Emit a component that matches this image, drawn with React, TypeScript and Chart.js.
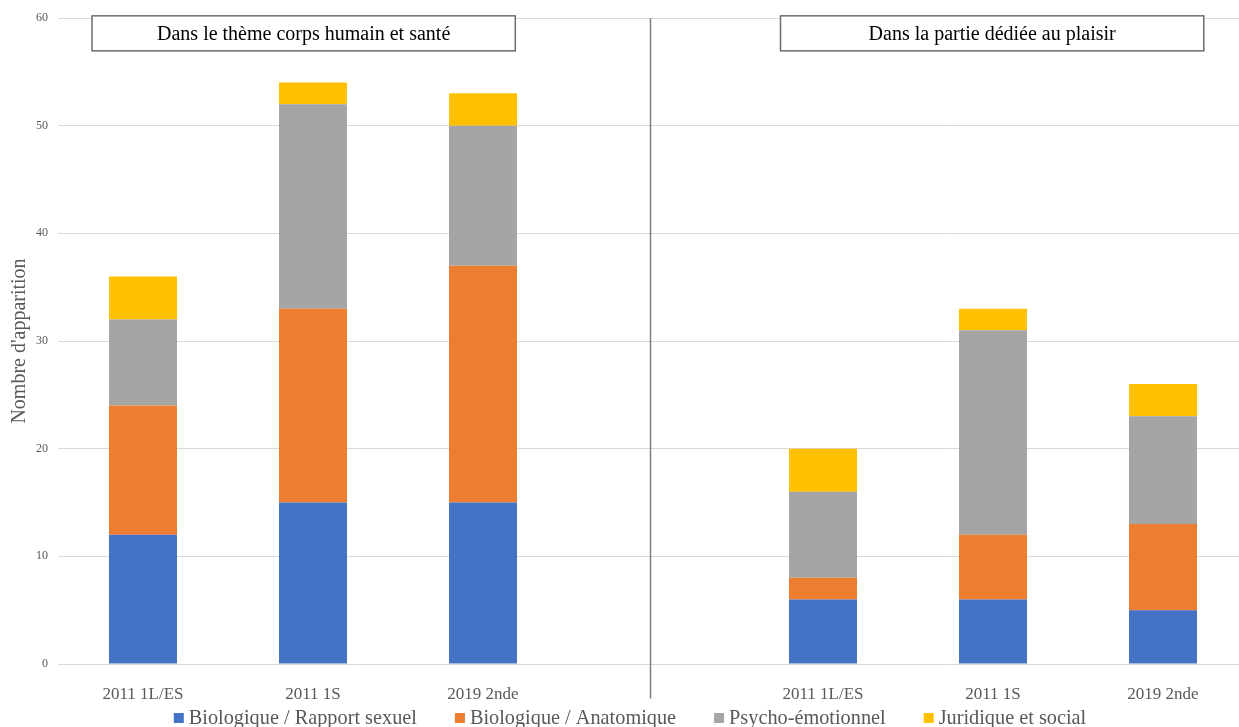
import React, { useEffect, useRef } from "react";
import { Chart, registerables } from "chart.js";

Chart.register(...registerables);

const categories = ["2011 1L/ES", "2011 1S", "2019 2nde", "", "2011 1L/ES", "2011 1S", "2019 2nde"];
const seriesNames = ["Biologique / Rapport sexuel", "Biologique / Anatomique", "Psycho-émotionnel", "Juridique et social"];
const bioRapport = [12, 15, 15, null, 6, 6, 5];
const bioAnatomique = [12, 18, 22, null, 2, 6, 8];
const psychoEmotionnel = [8, 19, 13, null, 8, 19, 10];
const juridiqueSocial = [4, 2, 3, null, 4, 2, 3];
const seriesColors = ["#4472C4", "#ED7D31", "#A5A5A5", "#FFC000"];
const yTicks = [0, 10, 20, 30, 40, 50, 60];
const sectionTitles = ["Dans le thème corps humain et santé", "Dans la partie dédiée au plaisir"];
const yTitle = "Nombre d'apparition";

const FONT = "'Liberation Serif', 'Times New Roman', serif";

export default function App() {
  const ref = useRef<HTMLCanvasElement | null>(null);

  useEffect(() => {
    if (!ref.current) return;
    const values = [bioRapport, bioAnatomique, psychoEmotionnel, juridiqueSocial];

    const decor = {
      id: "decor",
      afterDatasetsDraw(chart: any) {
        const { ctx, scales } = chart;
        const x = scales.x;
        const y = scales.y;
        ctx.save();
        // separator line
        const sx = Math.round(x.getPixelForValue(2.98)) + 0.5;
        ctx.strokeStyle = "#7f7f7f";
        ctx.lineWidth = 1.5;
        ctx.beginPath();
        ctx.moveTo(sx, y.getPixelForValue(60));
        ctx.lineTo(sx, y.getPixelForValue(-3.2));
        ctx.stroke();
        // section boxes
        const ranges = [
          [-0.3, 2.19],
          [3.75, 6.24],
        ];
        ranges.forEach((r, i) => {
          const l = x.getPixelForValue(r[0]);
          const rr = x.getPixelForValue(r[1]);
          const t = y.getPixelForValue(60.2);
          const b = y.getPixelForValue(56.95);
          ctx.fillStyle = "#ffffff";
          ctx.fillRect(l, t, rr - l, b - t);
          ctx.strokeStyle = "#6d6d6d";
          ctx.lineWidth = 1.5;
          ctx.strokeRect(l, t, rr - l, b - t);
          ctx.fillStyle = "#000000";
          ctx.font = `20px ${FONT}`;
          ctx.textAlign = "center";
          ctx.textBaseline = "middle";
          ctx.fillText(sectionTitles[i], (l + rr) / 2, (t + b) / 2 + 1);
        });
        ctx.restore();
      },
      afterDraw(chart: any) {
        const { ctx } = chart;
        ctx.save();
        ctx.font = `20.3px ${FONT}`;
        const box = 10;
        const gapText = 5;
        const gapItem = 38;
        const widths = seriesNames.map((n) => ctx.measureText(n).width);
        const total = widths.reduce((a, w) => a + box + gapText + w, 0) + gapItem * (seriesNames.length - 1);
        let cx = 630 - total / 2;
        const cy = 718;
        seriesNames.forEach((n, i) => {
          ctx.fillStyle = seriesColors[i];
          ctx.fillRect(cx, cy - box / 2, box, box);
          ctx.fillStyle = "#595959";
          ctx.textAlign = "left";
          ctx.textBaseline = "middle";
          ctx.fillText(n, cx + box + gapText, cy + 1);
          cx += box + gapText + widths[i] + gapItem;
        });
        ctx.restore();
      },
    };

    const chart = new Chart(ref.current, {
      type: "bar",
      data: {
        labels: categories,
        datasets: seriesNames.map((name, i) => ({
          label: name,
          data: values[i] as any,
          backgroundColor: seriesColors[i],
          borderWidth: 0,
          barPercentage: 0.4,
          categoryPercentage: 1,
        })),
      },
      options: {
        animation: false,
        responsive: false,
        layout: { padding: { top: 18, right: 12, bottom: 40, left: 0 } },
        plugins: {
          legend: { display: false },
          tooltip: { enabled: false },
        },
        scales: {
          x: {
            stacked: true,
            grid: { display: false },
            border: { display: false },
            ticks: {
              color: "#595959",
              font: { family: FONT, size: 17 },
              padding: 12,
              maxRotation: 0,
              autoSkip: false,
            },
            afterFit(scale: any) {
              scale.height = 36;
            },
          },
          y: {
            stacked: true,
            min: 0,
            max: 60,
            afterBuildTicks(scale: any) {
              scale.ticks = yTicks.map((v) => ({ value: v }));
            },
            grid: { color: "#d9d9d9", lineWidth: 1, drawTicks: false },
            border: { display: false },
            ticks: {
              color: "#595959",
              font: { family: FONT, size: 12 },
              padding: 10,
            },
            title: {
              display: true,
              text: yTitle,
              color: "#595959",
              font: { family: FONT, size: 20 },
              padding: { top: 8, bottom: 0 },
            },
            afterFit(scale: any) {
              scale.width = 58;
            },
          },
        },
      },
      plugins: [decor],
    });
    return () => chart.destroy();
  }, []);

  return (
    <div style={{ position: "fixed", left: 0, top: 0, width: 1239, height: 727, overflow: "hidden", background: "#fff" }}>
      <canvas ref={ref} width={1260} height={740} style={{ display: "block" }} />
    </div>
  );
}
